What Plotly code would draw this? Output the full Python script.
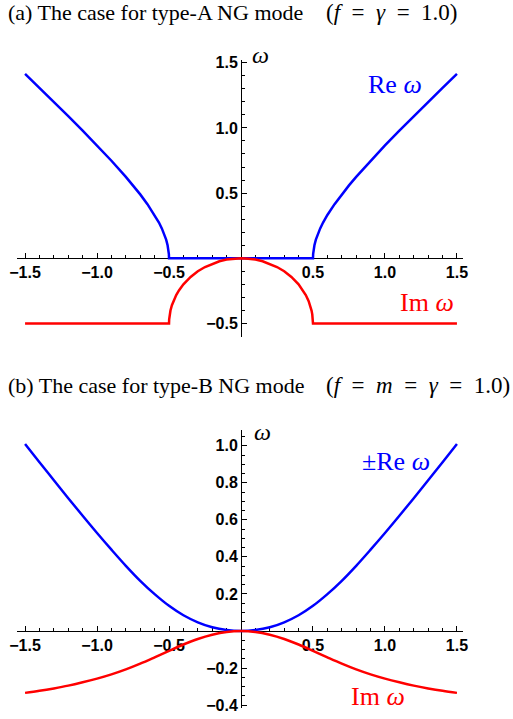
import plotly.graph_objs as go

# ---- panel (a): type-A NG mode ----
k_a_re = [-1.5, -1.4, -1.3, -1.2, -1.1, -1.0, -0.9, -0.8, -0.75, -0.7, -0.65,
          -0.6, -0.57, -0.55, -0.54, -0.52, -0.51, -0.505, -0.501, -0.5,
          0.5, 0.501, 0.505, 0.51, 0.52, 0.54, 0.55, 0.57, 0.6, 0.65, 0.7,
          0.75, 0.8, 0.9, 1.0, 1.1, 1.2, 1.3, 1.4, 1.5]
re_a = [1.414, 1.308, 1.200, 1.091, 0.980, 0.866, 0.748, 0.624, 0.559, 0.490,
        0.415, 0.332, 0.274, 0.229, 0.204, 0.143, 0.100, 0.071, 0.032, 0.0,
        0.0, 0.032, 0.071, 0.100, 0.143, 0.204, 0.229, 0.274, 0.332, 0.415,
        0.490, 0.559, 0.624, 0.748, 0.866, 0.980, 1.091, 1.200, 1.308, 1.414]

k_a_im = [-1.5, -0.5, -0.499, -0.495, -0.49, -0.48, -0.47, -0.45, -0.43, -0.4,
          -0.35, -0.3, -0.25, -0.2, -0.15, -0.1, -0.05, 0.0,
          0.05, 0.1, 0.15, 0.2, 0.25, 0.3, 0.35, 0.4, 0.43, 0.45, 0.47, 0.48,
          0.49, 0.495, 0.499, 0.5, 1.5]
im_a = [-0.5, -0.5, -0.468, -0.430, -0.401, -0.360, -0.329, -0.282, -0.245,
        -0.200, -0.143, -0.100, -0.067, -0.042, -0.023, -0.010, -0.003, 0.0,
        -0.003, -0.010, -0.023, -0.042, -0.067, -0.100, -0.143, -0.200,
        -0.245, -0.282, -0.329, -0.360, -0.401, -0.430, -0.468, -0.5, -0.5]

# ---- panel (b): type-B NG mode ----
k_b = [-1.5, -1.4, -1.3, -1.2, -1.1, -1.0, -0.9, -0.8, -0.7, -0.6, -0.5,
       -0.4, -0.3, -0.2, -0.1, 0.0, 0.1, 0.2, 0.3, 0.4, 0.5, 0.6, 0.7, 0.8,
       0.9, 1.0, 1.1, 1.2, 1.3, 1.4, 1.5]
re_b = [1.009, 0.911, 0.814, 0.717, 0.622, 0.529, 0.439, 0.352, 0.271, 0.199,
        0.136, 0.085, 0.047, 0.020, 0.005, 0.0, 0.005, 0.020, 0.047, 0.085,
        0.136, 0.199, 0.271, 0.352, 0.439, 0.529, 0.622, 0.717, 0.814, 0.911,
        1.009]
im_b = [-0.334, -0.323, -0.310, -0.295, -0.277, -0.257, -0.234, -0.207,
        -0.176, -0.142, -0.107, -0.073, -0.043, -0.020, -0.005, 0.0, -0.005,
        -0.020, -0.043, -0.073, -0.107, -0.142, -0.176, -0.207, -0.234,
        -0.257, -0.277, -0.295, -0.310, -0.323, -0.334]

x_ticks = [-1.5, -1.0, -0.5, 0.5, 1.0, 1.5]
y_ticks_a = [-0.5, 0.5, 1.0, 1.5]
y_ticks_b = [-0.4, -0.2, 0.2, 0.4, 0.6, 0.8, 1.0]

x_range = [-1.556, 1.542]
y_range_a = [-0.604, 1.521]
y_range_b = [-0.413, 1.085]

W, H = 513, 719
x_dom = [17 / W, 463 / W]
y_dom_a = [(H - 337) / H, (H - 60) / H]
y_dom_b = [(H - 707.5) / H, (H - 430) / H]


def zero_pos(rng, dom):
    # paper position of the data value 0 on an axis
    return dom[0] + (0 - rng[0]) / (rng[1] - rng[0]) * (dom[1] - dom[0])


def fmt(v):
    return '<b>' + ('%.1f' % v).replace('-', '\u2212') + '</b>'


tick_font = dict(family='Liberation Sans', size=16, color='black')
BLUE = '#0000ff'
RED = '#ff0000'

fig = go.Figure()
fig.add_trace(go.Scatter(x=k_a_re, y=re_a, mode='lines', xaxis='x',
                         yaxis='y', line=dict(color=BLUE, width=2.5)))
fig.add_trace(go.Scatter(x=k_a_im, y=im_a, mode='lines', xaxis='x',
                         yaxis='y', line=dict(color=RED, width=2.5)))
fig.add_trace(go.Scatter(x=k_b, y=re_b, mode='lines', xaxis='x2',
                         yaxis='y2', line=dict(color=BLUE, width=2.5,
                                               shape='spline')))
fig.add_trace(go.Scatter(x=k_b, y=im_b, mode='lines', xaxis='x2',
                         yaxis='y2', line=dict(color=RED, width=2.5,
                                               shape='spline')))

common = dict(showline=True, linecolor='black', linewidth=1,
              ticks='inside', ticklen=5, tickcolor='black', tickwidth=1,
              showgrid=False, zeroline=False, tickmode='array',
              tickfont=tick_font, layer='below traces')

xa = dict(common, domain=x_dom, range=x_range, anchor='free',
          tickvals=x_ticks, ticktext=[fmt(v) for v in x_ticks],
          minor=dict(tickmode='linear', tick0=0, dtick=0.1, ticks='inside',
                     ticklen=3, tickcolor='black', tickwidth=1))

fig.update_layout(
    width=W, height=H,
    margin=dict(l=0, r=0, t=0, b=0, autoexpand=False),
    paper_bgcolor='white', plot_bgcolor='rgba(0,0,0,0)',
    showlegend=False,
    xaxis=dict(xa, position=zero_pos(y_range_a, y_dom_a)),
    yaxis=dict(common, domain=y_dom_a, range=y_range_a, anchor='free',
               position=zero_pos(x_range, x_dom),
               tickvals=y_ticks_a, ticktext=[fmt(v) for v in y_ticks_a],
               minor=dict(tickmode='linear', tick0=0, dtick=0.1,
                          ticks='inside', ticklen=3, tickcolor='black',
                          tickwidth=1)),
    xaxis2=dict(xa, position=zero_pos(y_range_b, y_dom_b)),
    yaxis2=dict(common, domain=y_dom_b, range=y_range_b, anchor='free',
                position=zero_pos(x_range, x_dom),
                tickvals=y_ticks_b, ticktext=[fmt(v) for v in y_ticks_b],
                minor=dict(tickmode='linear', tick0=0, dtick=0.05,
                           ticks='inside', ticklen=3, tickcolor='black',
                           tickwidth=1)),
)

serif = 'Liberation Serif'
title_font = dict(family=serif, size=22, color='black')
math_font = dict(family=serif, size=23, color='black')
label_font = dict(family=serif, size=26)
sp = '\u2002'  # wider gaps round "=" as in the typeset math

annotations = [
    dict(text='(a) The case for type-A NG mode',
         x=6 / W, y=1 - 13 / H, xref='paper', yref='paper',
         xanchor='left', yanchor='middle', font=title_font),
    dict(text='(<i>f</i>' + sp + '=' + sp + '<i>\u03b3</i>' + sp + '='
              + sp + '1.0)',
         x=324 / W, y=1 - 13 / H, xref='paper', yref='paper',
         xanchor='left', yanchor='middle', font=math_font),
    dict(text='(b) The case for type-B NG mode',
         x=6 / W, y=1 - 385 / H, xref='paper', yref='paper',
         xanchor='left', yanchor='middle', font=title_font),
    dict(text='(<i>f</i>' + sp + '=' + sp + '<i>m</i>' + sp + '=' + sp
              + '<i>\u03b3</i>' + sp + '=' + sp + '1.0)',
         x=324 / W, y=1 - 385 / H, xref='paper', yref='paper',
         xanchor='left', yanchor='middle', font=math_font),
    dict(text='Re <i>\u03c9</i>', x=1.07, y=1.33, xref='x', yref='y',
         font=dict(label_font, color=BLUE)),
    dict(text='Im <i>\u03c9</i>', x=1.29, y=-0.343, xref='x', yref='y',
         font=dict(label_font, color=RED)),
    dict(text='<i>k</i>', x=1.694, y=0.0, xref='x', yref='y',
         font=dict(label_font, color='black')),
    dict(text='<i>\u03c9</i>', x=0.132, y=1.5, yshift=8, xref='x', yref='y',
         font=dict(family=serif, size=24, color='black')),
    dict(text='\u00b1Re <i>\u03c9</i>', x=1.076, y=0.917, xref='x2', yref='y2',
         font=dict(label_font, color=BLUE)),
    dict(text='Im <i>\u03c9</i>', x=0.951, y=-0.356, xref='x2', yref='y2',
         font=dict(label_font, color=RED)),
    dict(text='<i>k</i>', x=1.694, y=0.103, xref='x2', yref='y2',
         font=dict(label_font, color='black')),
    dict(text='<i>\u03c9</i>', x=0.146, y=1.074, xref='x2', yref='y2',
         font=dict(family=serif, size=24, color='black')),
]
for a in annotations:
    a['showarrow'] = False
fig.update_layout(annotations=annotations)

# drop the browser's default 8px body margin so the figure sits at (0, 0)
fig.write_html("out.html", config={'displayModeBar': False},
               post_script="document.body.style.margin = '0';")
